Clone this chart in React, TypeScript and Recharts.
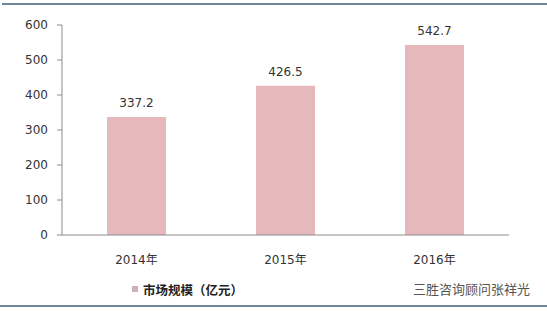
import { BarChart, Bar, XAxis, YAxis, Legend } from 'recharts'

const years = ['2014年', '2015年', '2016年']
const marketSize = [337.2, 426.5, 542.7]
const yTicks = [0, 100, 200, 300, 400, 500, 600]
const boundaryTicks = [0, 1, 2, 3]
const seriesName = '市场规模（亿元）'
const watermark = '三胜咨询顾问张祥光'

const data = years.map((year, i) => ({ year, value: marketSize[i] }))

const FONT = '"DejaVu Sans", "Noto Sans CJK SC", sans-serif'

function LegendBox() {
  return (
    <div style={{ position: 'relative', height: 24, width: 547, fontFamily: FONT }}>
      <div
        style={{
          position: 'absolute',
          left: 132,
          top: 9,
          width: 6,
          height: 6,
          background: '#cdb3b6',
        }}
      />
      <div
        style={{
          position: 'absolute',
          left: 143,
          top: 3,
          fontSize: 12.5,
          fontWeight: 'bold',
          color: '#222',
          whiteSpace: 'nowrap',
        }}
      >
        {seriesName}
      </div>
      <div
        style={{
          position: 'absolute',
          left: 413,
          top: 2,
          fontSize: 13,
          color: '#555',
          whiteSpace: 'nowrap',
        }}
      >
        {watermark}
      </div>
    </div>
  )
}

export default function App() {
  return (
    <div style={{ position: 'fixed', left: 0, top: 0, width: 547, height: 311, background: '#fff' }}>
      <div style={{ position: 'absolute', left: 2, right: 0, top: 3, height: 2, background: '#6f879e' }} />
      <div style={{ position: 'absolute', left: 0, right: 0, top: 305, height: 2, background: '#6f879e' }} />
      <BarChart
        width={547}
        height={311}
        data={data}
        margin={{ top: 25, right: 38, bottom: 10, left: 0 }}
        style={{ fontFamily: FONT }}
      >
        <XAxis
          xAxisId="edges"
          type="number"
          domain={[0, 3]}
          ticks={boundaryTicks}
          tick={false}
          tickSize={5}
          tickLine={{ stroke: '#8c8c8c' }}
          axisLine={false}
          height={0}
        />
        <XAxis
          dataKey="year"
          height={42}
          tickLine={false}
          tickSize={0}
          tickMargin={20}
          axisLine={{ stroke: '#8c8c8c' }}
          tick={{ fill: '#333', fontSize: 12 }}
        />
        <YAxis
          width={62}
          domain={[0, 600]}
          ticks={yTicks}
          tickSize={5}
          tickMargin={9}
          axisLine={{ stroke: '#8c8c8c' }}
          tickLine={{ stroke: '#8c8c8c' }}
          tick={{ fill: '#333', fontSize: 12 }}
        />
        <Legend verticalAlign="bottom" align="left" content={() => <LegendBox />} wrapperStyle={{ left: 0, width: 547 }} />
        <Bar
          dataKey="value"
          name={seriesName}
          fill="#e5b8bb"
          barSize={59}
          isAnimationActive={false}
          label={{ position: 'top', fill: '#333', fontSize: 12, offset: 10 }}
        />
      </BarChart>
    </div>
  )
}
